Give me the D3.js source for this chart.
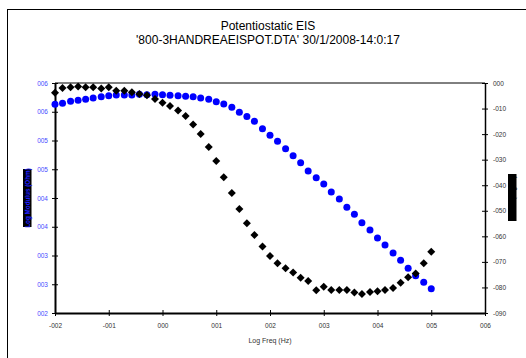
<!DOCTYPE html>
<html><head><meta charset="utf-8">
<script src="https://cdn.jsdelivr.net/npm/d3@7"></script>
<style>body{margin:0;background:#fff}svg{display:block}text{font-family:"Liberation Sans",Arial,sans-serif}</style>
</head><body>
<script>
const logFreq = [-2.00,-1.86,-1.71,-1.57,-1.43,-1.29,-1.14,-1.00,-0.86,-0.71,-0.57,-0.43,-0.29,-0.14,0.00,0.14,0.29,0.43,0.57,0.71,0.86,1.00,1.14,1.29,1.43,1.57,1.71,1.86,2.00,2.14,2.29,2.43,2.57,2.71,2.86,3.00,3.14,3.29,3.43,3.57,3.71,3.86,4.00,4.14,4.29,4.43,4.57,4.71,4.86,5.00];
const logModulus = [5.630,5.647,5.682,5.699,5.717,5.739,5.762,5.779,5.791,5.791,5.791,5.803,5.797,5.803,5.797,5.786,5.779,5.769,5.762,5.739,5.718,5.675,5.635,5.577,5.492,5.417,5.336,5.205,5.090,4.986,4.857,4.736,4.614,4.470,4.353,4.243,4.104,3.983,3.838,3.717,3.570,3.443,3.304,3.183,3.043,2.917,2.777,2.649,2.534,2.423];
const phase = [-3.8,-2.0,-1.7,-1.4,-1.7,-1.7,-2.2,-1.7,-3.0,-3.0,-3.6,-4.3,-4.8,-6.3,-7.7,-9.0,-10.8,-12.9,-16.2,-20.0,-25.0,-30.5,-36.9,-43.0,-49.3,-54.9,-59.5,-64.0,-67.7,-70.5,-72.5,-74.2,-76.2,-77.5,-81.1,-79.7,-81.0,-81.0,-81.0,-82.0,-82.6,-81.8,-81.5,-81.0,-80.2,-78.2,-76.0,-74.5,-70.5,-66.0];
const xTickValues = [-2,-1,0,1,2,3,4,5,6];
const xTickLabels = ["-002","-001","000","001","002","003","004","005","006"];
const leftTickValues = [2,2.5,3,3.5,4,4.5,5,5.5,6];
const leftTickLabels = ["002","003","003","004","004","005","005","006","006"];
const rightTickValues = [0,-10,-20,-30,-40,-50,-60,-70,-80,-90];
const rightTickLabels = ["000","-010","-020","-030","-040","-050","-060","-070","-080","-090"];
const titleLines = ["Potentiostatic EIS","'800-3HANDREAEISPOT.DTA' 30/1/2008-14:0:17"];
const xTitle = "Log Freq (Hz)";
const leftTitle = "Log Modulus (Ohm)";
const rightTitle = "Phase (degree)";

const W=526,H=358;
const L=55,R=485,T=83,B=313;
const svg=d3.select("body").append("svg").attr("width",W).attr("height",H);
svg.append("rect").attr("x",7.5).attr("y",9.5).attr("width",540).attr("height",370).attr("fill","none").attr("stroke","#000").attr("stroke-width",1);

const x=d3.scaleLinear([-2,6],[L,R]);
const yL=d3.scaleLinear([2,6],[B,T]);
const yR=d3.scaleLinear([-90,0],[B,T]);

// title
svg.selectAll("text.title").data(titleLines).join("text").attr("class","title")
  .attr("x",268).attr("y",(d,i)=>30+i*13.5).attr("text-anchor","middle")
  .attr("font-size",12).attr("fill","#000").text(d=>d);

// plot frame top line
svg.append("line").attr("x1",L).attr("x2",R).attr("y1",T).attr("y2",T).attr("stroke","#000").attr("stroke-width",1);

function styleAxis(g,color,sw){
  g.select(".domain").attr("stroke","#000").attr("stroke-width",sw);
  g.selectAll(".tick line").attr("stroke","#000").attr("stroke-width",1);
  g.selectAll(".tick text").attr("fill",color).attr("font-size",6.5).attr("font-family",'"Liberation Sans",Arial,sans-serif');
}
const gx=svg.append("g").attr("transform",`translate(0,${B})`)
  .call(d3.axisBottom(x).tickValues(xTickValues).tickFormat((d,i)=>xTickLabels[i]).tickSizeInner(3).tickSizeOuter(0).tickPadding(7));
styleAxis(gx,"#333",2);
gx.selectAll(".tick line").attr("y1",-3);

const gl=svg.append("g").attr("transform",`translate(${L},0)`)
  .call(d3.axisLeft(yL).tickValues(leftTickValues).tickFormat((d,i)=>leftTickLabels[i]).tickSizeInner(3).tickSizeOuter(0).tickPadding(4));
styleAxis(gl,"#4a4aff",2);
gl.selectAll(".tick line").attr("x1",3);

const gr=svg.append("g").attr("transform",`translate(${R},0)`)
  .call(d3.axisRight(yR).tickValues(rightTickValues).tickFormat((d,i)=>rightTickLabels[i]).tickSizeInner(3).tickSizeOuter(0).tickPadding(5));
styleAxis(gr,"#333",1.5);
gr.selectAll(".tick line").attr("x1",-3);

// axis titles
svg.append("text").attr("x",(L+R)/2).attr("y",343).attr("text-anchor","middle").attr("font-size",7).attr("fill","#333").text(xTitle);
svg.append("rect").attr("x",23).attr("y",169).attr("width",8.5).attr("height",58).attr("fill","#000");
svg.append("text").attr("transform","translate(29.5,198) rotate(-90)").attr("text-anchor","middle")
  .attr("font-size",6.3).attr("font-weight","bold").attr("fill","#2020ff").text(leftTitle);
svg.append("rect").attr("x",508).attr("y",174).attr("width",8.5).attr("height",47).attr("fill","#000");
svg.append("text").attr("transform","translate(514.5,197.5) rotate(-90)").attr("text-anchor","middle")
  .attr("font-size",6.3).attr("fill","#000").text(rightTitle);

// series
const pts=logFreq.map((f,i)=>({f,m:logModulus[i],p:phase[i]}));
svg.append("g").selectAll("circle").data(pts).join("circle")
  .attr("cx",d=>x(d.f)).attr("cy",d=>yL(d.m)).attr("r",3.5).attr("fill","#0000ff");
const dia=d3.symbol().type(d3.symbolSquare).size(32);
svg.append("g").selectAll("path").data(pts).join("path")
  .attr("d",dia).attr("transform",d=>`translate(${x(d.f)},${yR(d.p)}) rotate(45)`).attr("fill","#000");
</script>
</body></html>
